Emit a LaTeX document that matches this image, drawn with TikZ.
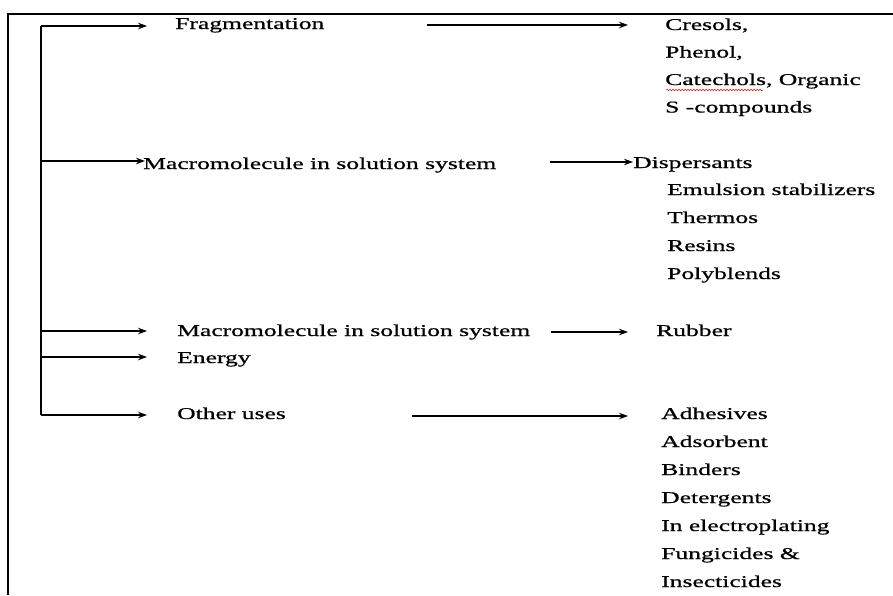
\documentclass[tikz,border=0pt]{standalone}
\usepackage{fontspec}
\setmainfont{Liberation Serif}[FakeStretch=1.55,FakeBold=0.8]
\usetikzlibrary{arrows.meta,decorations.pathmorphing}

\tikzset{
    txt/.style={anchor=base west, inner sep=0pt, font=\fontsize{16.5}{28}\selectfont},
    lst/.style={txt, align=left},
    arr/.style={-{Stealth[length=9pt,width=6.5pt]}, line width=1.1pt},
    frame/.style={line width=1.4pt}
}

\begin{document}
\begin{tikzpicture}[x=1pt,y=-1pt]
    \useasboundingbox (0,0) rectangle (893,595);
    \draw[frame] (893,14) -- (8,14) -- (8,595);

    \node[txt] (frag) at (175,29) {Fragmentation};
    \node[txt] (macro) at (143,169) {Macromolecule in solution system};
    \node[txt] (macrob) at (177,336) {Macromolecule in solution system};
    \node[txt] (energy) at (177,363) {Energy};
    \node[txt] (other) at (177,419) {Other uses};

    \node[lst, font=\fontsize{16.5}{27.5}\selectfont] (phenols) at (665,112.5) {Cresols,\\Phenol,\\Catechols, Organic\\S -compounds};
    \node[txt] (disp) at (633,168) {Dispersants};
    \node[lst] (displist) at (667,279) {Emulsion stabilizers\\Thermos\\Resins\\Polyblends};
    \node[txt] (rubber) at (656,336) {Rubber};
    \node[lst] (uses) at (661,587) {Adhesives\\Adsorbent\\Binders\\Detergents\\In electroplating\\Fungicides \&\\Insecticides};

    \coordinate (t1) at (41,26);
    \coordinate (t2) at (41,161);
    \coordinate (t3) at (41,331);
    \coordinate (t4) at (41,357);
    \coordinate (t5) at (41,415);
    \draw[frame] (t1) -- (t5);
    \draw[arr, shorten >=28pt] (t1) -- (t1 -| frag.west);
    \draw[arr, shorten >=-2pt] (t2) -- (t2 -| macro.west);
    \draw[arr, shorten >=30pt] (t3) -- (t3 -| macrob.west);
    \draw[arr, shorten >=30pt] (t4) -- (t4 -| energy.west);
    \draw[arr, shorten >=30pt] (t5) -- (t5 -| other.west);

    \coordinate (r1) at (427,25);
    \coordinate (r2) at (550,162);
    \coordinate (r3) at (551,332);
    \coordinate (r5) at (412,416);
    \draw[arr, shorten >=37pt] (r1) -- (r1 -| phenols.west);
    \draw[arr] (r2) -- (r2 -| disp.west);
    \draw[arr, shorten >=28pt] (r3) -- (r3 -| rubber.west);
    \draw[arr, shorten >=33pt] (r5) -- (r5 -| uses.west);

    \draw[red, line width=0.5pt, decorate, decoration={snake, amplitude=0.7pt, segment length=3pt}] (666,90) -- (763,90);
\end{tikzpicture}
\end{document}
